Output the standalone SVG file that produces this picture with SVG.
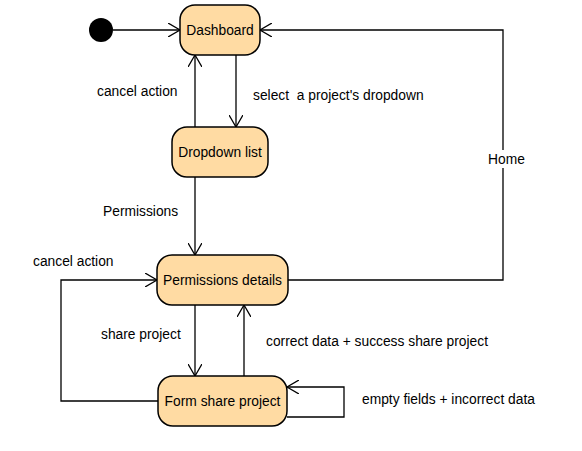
<svg xmlns="http://www.w3.org/2000/svg" width="582" height="451" viewBox="0 0 582 451">
<style>
.node rect{fill:#FFDBA3;stroke:#000;stroke-width:1.5}
.node text{font-family:"Liberation Sans",Arial,sans-serif;font-size:13.8px;fill:#000;text-anchor:middle}
.lbl{font-family:"Liberation Sans",Arial,sans-serif;font-size:13.8px;fill:#000;white-space:pre}
.edge{fill:none;stroke:#000;stroke-width:1.3}
</style>
<defs>
<marker id="arr" viewBox="0 0 12 14" refX="12" refY="7" markerWidth="12" markerHeight="14" markerUnits="userSpaceOnUse" orient="auto">
<path d="M0,0 L12,7 L0,14" fill="none" stroke="#000" stroke-width="1.3"/>
</marker>
</defs>
<rect width="582" height="451" fill="#fff"/>
<g id="connectors">
<path class="edge" d="M113,30 L180,30" marker-end="url(#arr)"/>
<path class="edge" d="M236,55 L236,127" marker-end="url(#arr)"/>
<path class="edge" d="M195,127 L195,55" marker-end="url(#arr)"/>
<path class="edge" d="M195,177 L195,255" marker-end="url(#arr)"/>
<path class="edge" d="M288,280 L503,280 L503,30 L260,30" marker-end="url(#arr)"/>
<path class="edge" d="M195,305 L195,376" marker-end="url(#arr)"/>
<path class="edge" d="M244,376 L244,305" marker-end="url(#arr)"/>
<path class="edge" d="M158,401 L61,401 L61,280 L157,280" marker-end="url(#arr)"/>
<path class="edge" d="M287,417 L344,417 L344,387 L287,387" marker-end="url(#arr)"/>
</g>
<g id="labels">
<text class="lbl" x="97" y="96">cancel action</text>
<text class="lbl" x="253" y="100" xml:space="preserve">select  a project's dropdown</text>
<rect x="487" y="150" width="38" height="18" fill="#fff"/>
<text class="lbl" x="488" y="164">Home</text>
<text class="lbl" x="103" y="216">Permissions</text>
<text class="lbl" x="33" y="266">cancel action</text>
<text class="lbl" x="101" y="339">share project</text>
<text class="lbl" x="266" y="346">correct data + success share project</text>
<text class="lbl" x="362" y="404">empty fields + incorrect data</text>
</g>
<g id="start"><circle cx="101" cy="30" r="12" fill="#000"/></g>
<g id="dashboard" class="node"><rect x="180" y="5" width="80" height="50" rx="15"/><text x="220" y="35">Dashboard</text></g>
<g id="dropdown" class="node"><rect x="172" y="127" width="96" height="50" rx="15"/><text x="220" y="157">Dropdown list</text></g>
<g id="permissions" class="node"><rect x="157" y="255" width="131" height="50" rx="15"/><text x="222.5" y="285">Permissions details</text></g>
<g id="form" class="node"><rect x="158" y="376" width="129" height="50" rx="15"/><text x="222.5" y="406">Form share project</text></g>
</svg>
